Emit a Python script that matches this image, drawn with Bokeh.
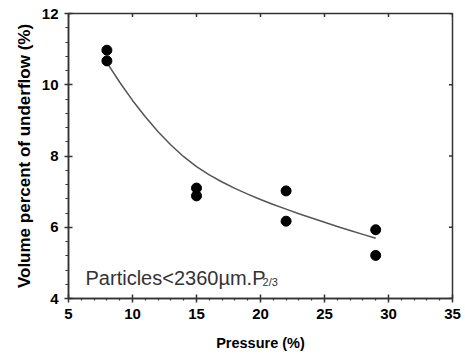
import numpy as np
from bokeh.plotting import figure
from bokeh.models import FixedTicker, Label
from bokeh.embed import file_html
from bokeh.resources import INLINE

# ---- data ----
pressure = [8, 8, 15, 15, 22, 22, 29, 29]
volume = [10.97, 10.67, 7.10, 6.88, 7.02, 6.17, 5.93, 5.21]

# trend curve, sampled by reading it off the picture
curve_x = [8, 9, 10, 11, 12, 13, 14, 15, 16, 17, 18, 19, 20, 21, 22,
           23, 24, 25, 26, 27, 28, 29]
curve_y = [10.62, 10.07, 9.56, 9.10, 8.68, 8.31, 7.98, 7.70, 7.47, 7.27,
           7.09, 6.93, 6.78, 6.64, 6.51, 6.38, 6.26, 6.14, 6.02, 5.91,
           5.80, 5.69]

x_ticks = [5, 10, 15, 20, 25, 30, 35]
y_ticks = [4, 6, 8, 10, 12]

x_label = "Pressure (%)"
y_label = "Volume percent of underflow (%)"
note_main = "Particles<2360µm.P"
note_sub = "2/3"

FONT = "Liberation Sans"
AX = "#333333"
X0, X1, Y0, Y1 = x_ticks[0], x_ticks[-1], y_ticks[0], y_ticks[-1]

p = figure(frame_width=384, frame_height=285,
           x_range=(X0, X1), y_range=(Y0, Y1),
           output_backend="svg", toolbar_location=None,
           min_border_left=68, min_border_right=13,
           min_border_top=13, min_border_bottom=62,
           x_axis_label=x_label, y_axis_label=y_label)
p.grid.visible = False
p.outline_line_color = AX
p.outline_line_width = 1.5
p.background_fill_color = "white"
p.border_fill_color = "white"

x_minor = [v for v in range(X0, X1 + 1) if v % 5 != 0]
y_minor = [round(Y0 + 0.4 * i, 2) for i in range(21) if i % 5 != 0]

xa_ = p.xaxis[0]
xa_.ticker = FixedTicker(ticks=x_ticks, minor_ticks=x_minor)
ya_ = p.yaxis[0]
ya_.ticker = FixedTicker(ticks=y_ticks, minor_ticks=y_minor)

for ax in (xa_, ya_):
    ax.axis_line_color = AX
    ax.axis_line_width = 1.5
    ax.major_tick_line_color = AX
    ax.major_tick_line_width = 1.5
    ax.minor_tick_line_color = AX
    ax.minor_tick_line_width = 1.2
    ax.major_tick_in = 4
    ax.major_tick_out = 4
    ax.major_label_text_font = FONT
    ax.major_label_text_font_style = "bold"
    ax.major_label_text_font_size = "15px"
    ax.major_label_text_color = "black"
    ax.axis_label_text_font = FONT
    ax.axis_label_text_font_style = "bold"
    ax.axis_label_text_color = "black"

xa_.axis_label_text_font_size = "14.5px"
ya_.axis_label_text_font_size = "17px"
xa_.minor_tick_in = 0
xa_.minor_tick_out = 2
xa_.major_label_standoff = 6
xa_.axis_label_standoff = 13
ya_.minor_tick_in = 0
ya_.minor_tick_out = 3
ya_.major_label_standoff = 6
ya_.axis_label_standoff = 5

# tick marks on the top and right frame edges (no labels)
p.scatter(x_ticks, [Y1] * len(x_ticks), marker="dash", angle=np.pi / 2,
          size=7, line_color=AX, line_width=1.5)
p.scatter([X1] * len(y_ticks), y_ticks, marker="dash",
          size=7, line_color=AX, line_width=1.5)

p.line(curve_x, curve_y, line_color="#555555", line_width=1.5)
p.scatter(pressure, volume, size=10, fill_color="black", line_color="black")

p.add_layout(Label(x=6.33, y=4.58, text=note_main, text_font=FONT,
                   text_font_size="20px", text_color="#333333",
                   text_baseline="alphabetic"))
p.add_layout(Label(x=20.16, y=4.45, text=note_sub, text_font=FONT,
                   text_font_size="11px", text_color="#333333",
                   text_baseline="alphabetic"))

open("out.html", "w").write(file_html(p, INLINE))
